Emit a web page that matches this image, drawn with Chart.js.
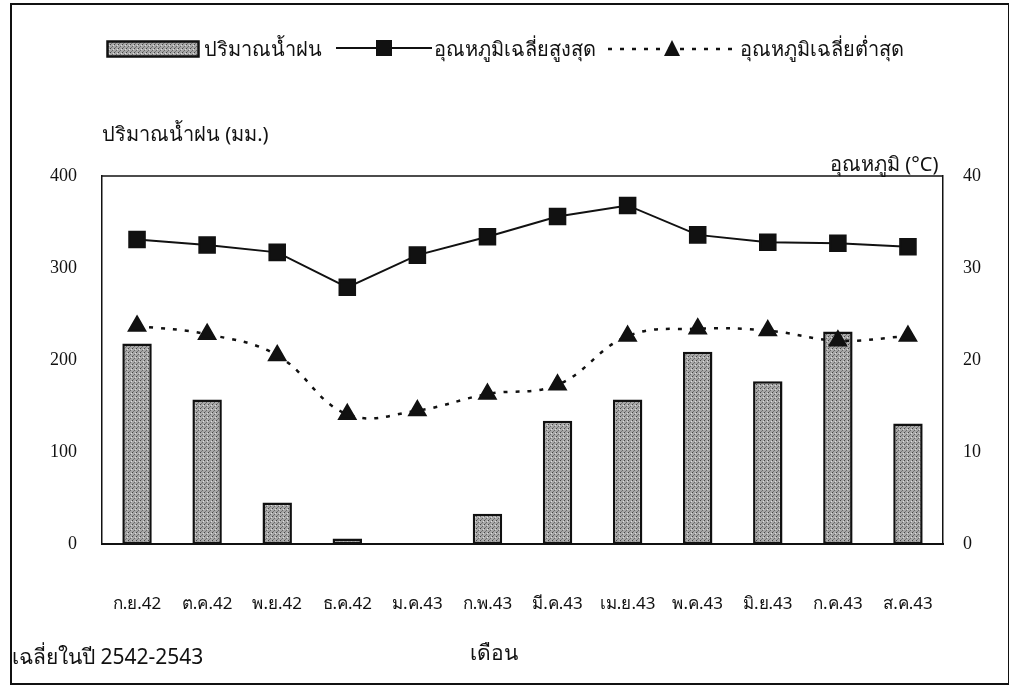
<!DOCTYPE html>
<html>
<head>
<meta charset="utf-8">
<script src="https://cdn.jsdelivr.net/npm/chart.js@4"></script>
<style>
  body { margin: 0; background: #fff; font-family: "Noto Sans", sans-serif; }
  #wrap { position: relative; width: 1013px; height: 691px; overflow: hidden; }
  #frame { position: absolute; left: 10px; top: 3px; width: 996px; height: 678px; border: 2px solid #111; border-right-width: 1px; }
  canvas { position: absolute; left: 0; top: 0; }
  .txt { position: absolute; color: #111; white-space: nowrap; }
  .lg { position: absolute; top: 33px; font-size: 20px; color: #111; white-space: nowrap; }
  .lg svg { display: block; }
</style>
</head>
<body>
<div id="wrap">
  <div id="frame"></div>
  <canvas id="chart" width="1013" height="691"></canvas>
  <svg class="lg" style="left:106px; top:40px" width="94" height="18"><defs><pattern id="dots" width="4" height="4" patternUnits="userSpaceOnUse"><rect width="4" height="4" fill="#a8a8a8"/><rect width="1" height="1" fill="#444"/><rect x="2" y="2" width="1" height="1" fill="#666"/><rect x="1" y="3" width="1" height="1" fill="#777"/><rect x="3" y="1" width="1" height="1" fill="#ddd"/></pattern></defs><rect x="1.5" y="1.5" width="91" height="15" fill="url(#dots)" stroke="#111" stroke-width="2.5"/></svg>
  <div class="lg" style="left:204px">ปริมาณน้ำฝน</div>
  <svg class="lg" style="left:336px; top:38px" width="96" height="20"><line x1="0" y1="10" x2="96" y2="10" stroke="#111" stroke-width="2"/><rect x="40" y="2" width="16" height="16" fill="#111"/></svg>
  <div class="lg" style="left:434px">อุณหภูมิเฉลี่ยสูงสุด</div>
  <svg class="lg" style="left:606px; top:38px" width="130" height="20"><line x1="2" y1="11" x2="130" y2="11" stroke="#111" stroke-width="2.5" stroke-dasharray="4 8"/><polygon points="66,2 74,18 58,18" fill="#111"/></svg>
  <div class="lg" style="left:740px">อุณหภูมิเฉลี่ยต่ำสุด</div>
  <div class="txt" style="left:102px; top:118px; font-size:20px;">ปริมาณน้ำฝน (มม.)</div>
  <div class="txt" style="left:830px; top:148px; font-size:20px;">อุณหภูมิ (°C)</div>
  <div class="txt" style="left:12px; top:640px; font-size:21px;">เฉลี่ยในปี 2542-2543</div>
  <div class="txt" style="left:470px; top:636px; font-size:21px;">เดือน</div>
</div>
<script>
// months (Thai abbreviations, Sep 1999 - Aug 2000)
const months = ['ก.ย.42', 'ต.ค.42', 'พ.ย.42', 'ธ.ค.42', 'ม.ค.43', 'ก.พ.43',
                'มี.ค.43', 'เม.ย.43', 'พ.ค.43', 'มิ.ย.43', 'ก.ค.43', 'ส.ค.43'];

// rainfall, mm (left axis)
const rainfall = [218, 157, 45, 6, 1, 33, 134, 157, 209, 177, 231, 131];

// average max / min temperature, °C (right axis)
const tempMax = [33.1, 32.5, 31.7, 27.9, 31.4, 33.4, 35.6, 36.8, 33.6, 32.8, 32.7, 32.3];
const tempMin = [23.7, 22.8, 20.5, 14.1, 14.5, 16.3, 17.3, 22.6, 23.4, 23.2, 22.1, 22.6];

const rainTicks = [0, 100, 200, 300, 400];
const tempTicks = [0, 10, 20, 30, 40];

// stippled grey fill for the bars
function makeStipple() {
    const c = document.createElement('canvas');
    c.width = 4; c.height = 4;
    const g = c.getContext('2d');
    g.fillStyle = '#a8a8a8'; g.fillRect(0, 0, 4, 4);
    g.fillStyle = '#444'; g.fillRect(0, 0, 1, 1);
    g.fillStyle = '#666'; g.fillRect(2, 2, 1, 1);
    g.fillStyle = '#777'; g.fillRect(1, 3, 1, 1);
    g.fillStyle = '#ddd'; g.fillRect(3, 1, 1, 1);
    return g.createPattern(c, 'repeat');
}

// top edge of the plot box (axes draw the other three sides)
const boxTop = {
    id: 'boxTop',
    afterDraw(chart) {
        const a = chart.chartArea, ctx = chart.ctx;
        ctx.save();
        ctx.strokeStyle = '#111';
        ctx.lineWidth = 1.5;
        ctx.beginPath();
        ctx.moveTo(a.left, a.top);
        ctx.lineTo(a.right, a.top);
        ctx.stroke();
        ctx.restore();
    }
};

const tickFont = { family: '"Liberation Serif", serif', size: 18 };

new Chart(document.getElementById('chart').getContext('2d'), {
    data: {
        labels: months,
        datasets: [
            {
                type: 'line',
                label: 'อุณหภูมิเฉลี่ยสูงสุด',
                data: tempMax,
                yAxisID: 'yTemp',
                borderColor: '#111',
                borderWidth: 2,
                pointStyle: 'rect',
                pointRadius: 11,
                pointBackgroundColor: '#111',
                pointBorderColor: '#111',
                tension: 0,
                order: 1
            },
            {
                type: 'line',
                label: 'อุณหภูมิเฉลี่ยต่ำสุด',
                data: tempMin,
                yAxisID: 'yTemp',
                borderColor: '#111',
                borderWidth: 2.5,
                borderDash: [4, 8],
                pointStyle: 'triangle',
                pointRadius: 9,
                pointBackgroundColor: '#111',
                pointBorderColor: '#111',
                tension: 0.4,
                order: 2
            },
            {
                type: 'bar',
                label: 'ปริมาณน้ำฝน',
                data: rainfall,
                yAxisID: 'yRain',
                backgroundColor: makeStipple(),
                borderColor: '#111',
                borderWidth: 2.5,
                borderSkipped: false,
                categoryPercentage: 1,
                barPercentage: 0.42,
                order: 3
            }
        ]
    },
    options: {
        responsive: false,
        animation: false,
        layout: { padding: { top: 176, left: 0, right: 0, bottom: 0 } },
        plugins: { legend: { display: false }, tooltip: { enabled: false } },
        scales: {
            x: {
                grid: { display: false },
                border: { display: true, color: '#111', width: 2 },
                ticks: { color: '#111', font: { family: '"Noto Sans", sans-serif', size: 17 }, padding: 42, maxRotation: 0 },
                afterFit(scale) { scale.height = 691 - 544; }
            },
            yRain: {
                position: 'left',
                min: 0, max: 400,
                afterBuildTicks(scale) { scale.ticks = rainTicks.map(v => ({ value: v })); },
                grid: { display: false, drawTicks: false },
                border: { display: true, color: '#111', width: 1.5 },
                ticks: { color: '#111', font: tickFont, padding: 25 },
                afterFit(scale) { scale.width = 102; }
            },
            yTemp: {
                position: 'right',
                min: 0, max: 40,
                afterBuildTicks(scale) { scale.ticks = tempTicks.map(v => ({ value: v })); },
                grid: { display: false, drawTicks: false },
                border: { display: true, color: '#111', width: 1.5 },
                ticks: { color: '#111', font: tickFont, padding: 20 },
                afterFit(scale) { scale.width = 1013 - 943; }
            }
        }
    },
    plugins: [boxTop]
});
</script>
</body>
</html>
